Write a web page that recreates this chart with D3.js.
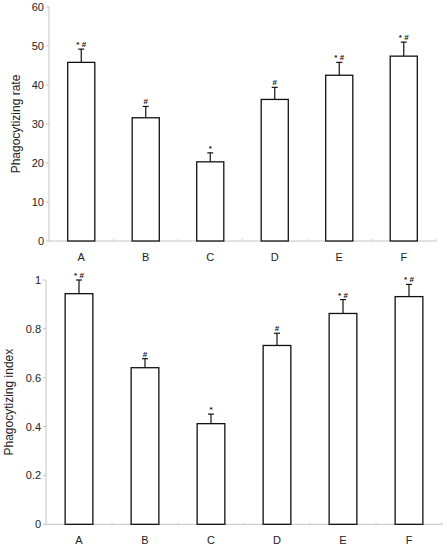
<!DOCTYPE html>
<html>
<head>
<meta charset="utf-8">
<script src="https://cdn.jsdelivr.net/npm/d3@7"></script>
<style>
  body { margin: 0; background: #fff; }
  text { font-family: "Liberation Sans", Arial, sans-serif; }
</style>
</head>
<body>
<div id="chart"></div>
<script>
let groups = ["A", "B", "C", "D", "E", "F"];
let rateValues = [45.8, 31.6, 20.3, 36.3, 42.5, 47.4];
let rateErrors = [3.4, 2.9, 2.3, 3.1, 3.3, 3.6];
let indexValues = [0.944, 0.641, 0.412, 0.732, 0.863, 0.932];
let indexErrors = [0.056, 0.037, 0.039, 0.05, 0.057, 0.05];
let marks = ["* #", "#", "*", "#", "* #", "* #"];
let rateTicks = [0, 10, 20, 30, 40, 50, 60];
let indexTicks = [0, 0.2, 0.4, 0.6, 0.8, 1];

let width = 447, height = 550;
let svg = d3.select("#chart").append("svg")
    .attr("width", width)
    .attr("height", height);

function drawPanel(opts) {
    let x = d3.scaleBand().domain(groups).range([opts.left, opts.right]).padding(0);
    let y = d3.scaleLinear().domain([0, opts.max]).range([opts.bottom, opts.top]);
    let g = svg.append("g");

    // axes (light gray)
    g.append("line")
        .attr("x1", opts.left).attr("x2", opts.left)
        .attr("y1", y(0)).attr("y2", y(opts.max))
        .attr("stroke", "#c4c4c4");
    g.append("line")
        .attr("x1", opts.left).attr("x2", opts.right)
        .attr("y1", y(0)).attr("y2", y(0))
        .attr("stroke", "#c4c4c4");

    g.selectAll(".ytick").data(opts.ticks).join("line")
        .attr("x1", opts.left - 3).attr("x2", opts.left)
        .attr("y1", d => y(d)).attr("y2", d => y(d))
        .attr("stroke", "#c4c4c4");
    g.selectAll(".ylab").data(opts.ticks).join("text")
        .attr("x", opts.left - 5)
        .attr("y", d => y(d) + 4)
        .attr("text-anchor", "end")
        .attr("font-size", 11)
        .attr("fill", "#222")
        .text(d => d);

    // small band ticks on the x axis
    g.selectAll(".xtick").data(groups.slice(1).concat(["end"])).join("line")
        .attr("x1", (d, i) => opts.left + (i + 1) * x.step())
        .attr("x2", (d, i) => opts.left + (i + 1) * x.step())
        .attr("y1", y(0) - 2).attr("y2", y(0) + 1)
        .attr("stroke", "#d0d0d0");

    g.selectAll(".xlab").data(groups).join("text")
        .attr("x", d => x(d) + x.bandwidth() / 2)
        .attr("y", opts.bottom + 20)
        .attr("text-anchor", "middle")
        .attr("font-size", 11)
        .attr("fill", "#222")
        .text(d => d);

    let bw = x.bandwidth() * 0.42;
    let cx = d => x(d) + x.bandwidth() / 2;

    g.selectAll(".bar").data(groups).join("rect")
        .attr("x", d => cx(d) - bw / 2)
        .attr("y", (d, i) => y(opts.values[i]))
        .attr("width", bw)
        .attr("height", (d, i) => y(0) - y(opts.values[i]))
        .attr("fill", "#fff")
        .attr("stroke", "#111")
        .attr("stroke-width", 1.3);

    g.selectAll(".err").data(groups).join("line")
        .attr("x1", cx).attr("x2", cx)
        .attr("y1", (d, i) => y(opts.values[i]))
        .attr("y2", (d, i) => y(opts.values[i] + opts.errors[i]))
        .attr("stroke", "#111")
        .attr("stroke-width", 1.2);
    g.selectAll(".cap").data(groups).join("line")
        .attr("x1", d => cx(d) - 3).attr("x2", d => cx(d) + 3)
        .attr("y1", (d, i) => y(opts.values[i] + opts.errors[i]))
        .attr("y2", (d, i) => y(opts.values[i] + opts.errors[i]))
        .attr("stroke", "#111")
        .attr("stroke-width", 1.2);

    g.selectAll(".mark").data(groups).join("text")
        .attr("x", d => cx(d))
        .attr("y", (d, i) => y(opts.values[i] + opts.errors[i]) - 2)
        .attr("text-anchor", "middle")
        .attr("font-size", 8)
        .attr("font-weight", "bold")
        .attr("fill", "#111")
        .text((d, i) => marks[i]);

    g.append("text")
        .attr("transform", "translate(" + opts.titleX + "," + ((opts.top + opts.bottom) / 2) + ") rotate(-90)")
        .attr("text-anchor", "middle")
        .attr("font-size", 12)
        .attr("fill", "#222")
        .text(opts.title);
}

drawPanel({
    left: 49, right: 436, top: 7, bottom: 241, max: 60,
    ticks: rateTicks, values: rateValues, errors: rateErrors,
    title: "Phagocytizing rate", titleX: 20
});

drawPanel({
    left: 46, right: 442, top: 280, bottom: 524.3, max: 1,
    ticks: indexTicks, values: indexValues, errors: indexErrors,
    title: "Phagocytizing index", titleX: 13
});
</script>
</body>
</html>
